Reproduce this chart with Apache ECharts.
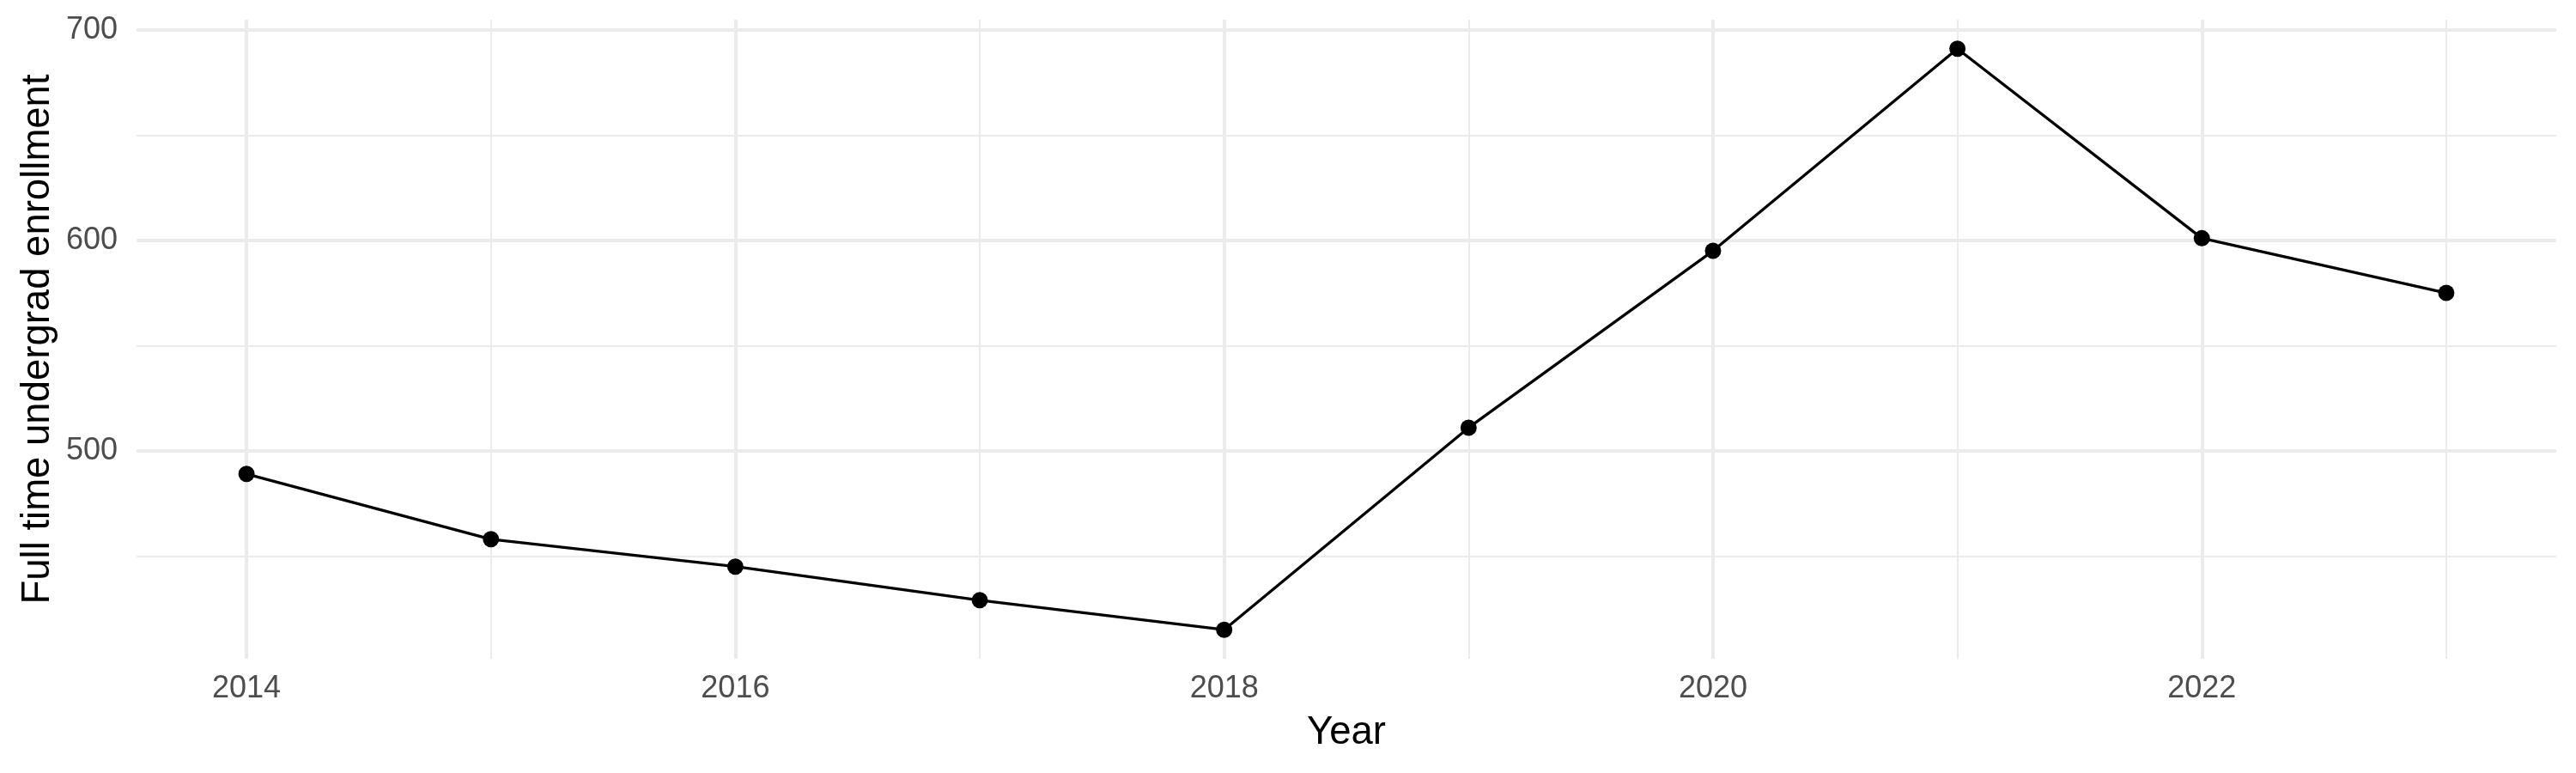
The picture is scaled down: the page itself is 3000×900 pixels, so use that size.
<!DOCTYPE html>
<html>
<head>
<meta charset="utf-8">
<script src="https://cdn.jsdelivr.net/npm/echarts@6/dist/echarts.min.js"></script>
<style>
  html, body { margin: 0; padding: 0; background: #fff; }
  #chart { width: 3000px; height: 900px; }
</style>
</head>
<body>
<div id="chart"></div>
<script>
// data
const years = [2014, 2015, 2016, 2017, 2018, 2019, 2020, 2021, 2022, 2023];
const enrollment = [489, 458, 445, 429, 415, 511, 595, 691, 601, 575];
const xMajorTicks = [2014, 2016, 2018, 2020, 2022];
const yMajorTicks = [500, 600, 700];
const yMinorTicks = [450, 550, 650];

// panel box in pixels and the data limits it shows (ggplot style 5% expand)
const panel = { left: 159, right: 2977, top: 23, bottom: 767 };
const xLim = [2013.55, 2023.45];
const yLim = [401.2, 704.8];
const W = 3000, H = 900;
const FONT = 'Liberation Sans';
const GRID_COLOR = '#EBEBEB';

function px(v) {
  return panel.left + (v - xLim[0]) / (xLim[1] - xLim[0]) * (panel.right - panel.left);
}
function py(v) {
  return panel.top + (yLim[1] - v) / (yLim[1] - yLim[0]) * (panel.bottom - panel.top);
}

const xFirst = years[0], xLast = years[years.length - 1];
const xMajStep = xMajorTicks[1] - xMajorTicks[0];
const yMajStep = yMajorTicks[1] - yMajorTicks[0];
const yMinStep = yMajorTicks[0] - yMinorTicks[0];
const yTop = yMajorTicks[yMajorTicks.length - 1];

const chart = echarts.init(document.getElementById('chart'), null, { renderer: 'canvas' });

chart.setOption({
  animation: false,
  backgroundColor: '#fff',
  grid: [
    // series + thin vertical lines
    { left: px(xFirst), right: W - px(xLast), top: panel.top, bottom: H - panel.bottom },
    // thick vertical lines + x labels
    { left: px(xMajorTicks[0]), right: W - px(xMajorTicks[xMajorTicks.length - 1]), top: panel.top, bottom: H - panel.bottom },
    // thin horizontal lines
    { left: panel.left, right: W - panel.right, top: py(yTop), bottom: H - py(yMinorTicks[0]) },
    // thick horizontal lines + y labels
    { left: panel.left, right: W - panel.right, top: py(yTop), bottom: H - py(yMajorTicks[0]) }
  ],
  xAxis: [
    {
      gridIndex: 0, type: 'value', min: xFirst, max: xLast, interval: 1,
      axisLine: { show: false }, axisTick: { show: false }, axisLabel: { show: false },
      splitLine: { lineStyle: { color: GRID_COLOR, width: 2 } },
      name: 'Year', nameLocation: 'middle', nameGap: 63,
      nameTextStyle: { fontFamily: FONT, fontSize: 45.5, color: '#000' }
    },
    {
      gridIndex: 1, type: 'value', min: xMajorTicks[0], max: xMajorTicks[xMajorTicks.length - 1], interval: xMajStep,
      axisLine: { show: false }, axisTick: { show: false },
      axisLabel: { fontFamily: FONT, fontSize: 36, color: '#4D4D4D', margin: 17, formatter: v => String(v) },
      splitLine: { lineStyle: { color: GRID_COLOR, width: 4 } }
    },
    { gridIndex: 2, type: 'value', show: false, min: 0, max: 1 },
    { gridIndex: 3, type: 'value', show: false, min: 0, max: 1 }
  ],
  yAxis: [
    {
      gridIndex: 0, type: 'value', min: yLim[0], max: yLim[1],
      axisLine: { show: false }, axisTick: { show: false }, axisLabel: { show: false },
      splitLine: { show: false },
      name: 'Full time undergrad enrollment', nameLocation: 'middle', nameGap: 220,
      nameTextStyle: { fontFamily: FONT, fontSize: 45.5, color: '#000' }
    },
    { gridIndex: 1, type: 'value', show: false, min: yLim[0], max: yLim[1] },
    {
      gridIndex: 2, type: 'value', min: yMinorTicks[0], max: yTop, interval: yMinStep,
      axisLine: { show: false }, axisTick: { show: false }, axisLabel: { show: false },
      splitLine: { lineStyle: { color: GRID_COLOR, width: 2 } }
    },
    {
      gridIndex: 3, type: 'value', min: yMajorTicks[0], max: yTop, interval: yMajStep,
      axisLine: { show: false }, axisTick: { show: false },
      axisLabel: { fontFamily: FONT, fontSize: 36, color: '#4D4D4D', margin: 22 },
      splitLine: { lineStyle: { color: GRID_COLOR, width: 4 } }
    }
  ],
  series: [{
    type: 'line',
    xAxisIndex: 0,
    yAxisIndex: 0,
    data: years.map((y, i) => [y, enrollment[i]]),
    symbol: 'circle',
    symbolSize: 19,
    clip: false,
    z: 10,
    itemStyle: { color: '#000' },
    lineStyle: { color: '#000', width: 3.3 }
  }]
});
</script>
</body>
</html>
